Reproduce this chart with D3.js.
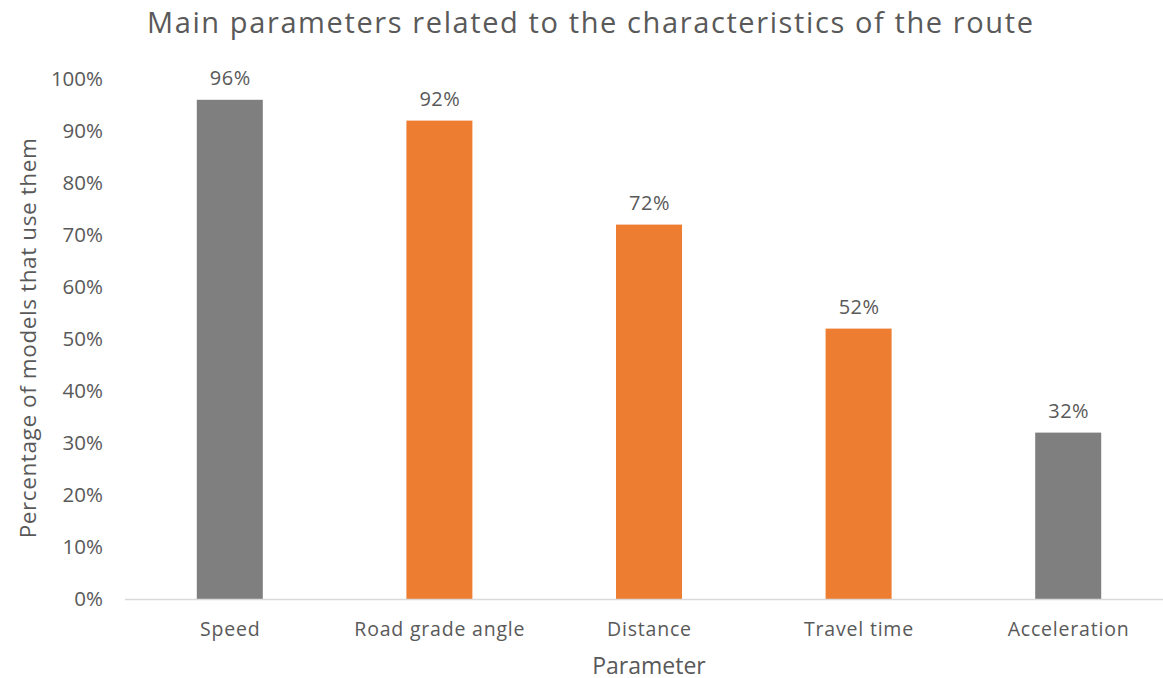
<!DOCTYPE html>
<html>
<head>
<meta charset="utf-8">
<script src="https://cdn.jsdelivr.net/npm/d3@7"></script>
<style>
  body { margin: 0; background: #fff; }
  svg { display: block; font-family: "Open Sans", sans-serif; }
</style>
</head>
<body>
<svg id="chart" width="1163" height="678"></svg>
<script>
const categories = ["Speed", "Road grade angle", "Distance", "Travel time", "Acceleration"];
const values = [96, 92, 72, 52, 32];
const groups = ["general", "route", "route", "route", "general"];
const yTicks = [0, 10, 20, 30, 40, 50, 60, 70, 80, 90, 100];

const svg = d3.select("#chart");
const textColor = "#595959";
const font = "'Open Sans', sans-serif";

const x = d3.scaleBand().domain(categories).range([125, 1173]).paddingInner(0).paddingOuter(0);
const y = d3.scaleLinear().domain([0, 100]).range([599, 79]);
const color = d3.scaleOrdinal().domain(["general", "route"]).range(["#7f7f7f", "#ed7d31"]);
const barW = 66;

// Title
svg.append("text")
  .attr("x", 590).attr("y", 33)
  .attr("text-anchor", "middle")
  .attr("fill", textColor)
  .attr("font-size", 29)
  .attr("textLength", 886)
  .attr("lengthAdjust", "spacing")
  .text("Main parameters related to the characteristics of the route");

// Y axis labels
const yAxis = d3.axisLeft(y).tickValues(yTicks).tickFormat(d => d + "%").tickSize(0).tickPadding(0);
const gy = svg.append("g").attr("transform", "translate(103,0)").call(yAxis);
gy.select(".domain").remove();
gy.selectAll("text").attr("fill", textColor).attr("font-size", 20.5).attr("font-family", font);

// Bars
const data = categories.map((c, i) => ({ c, v: values[i], g: groups[i] }));
svg.append("g").selectAll("rect").data(data).join("rect")
  .attr("x", d => x(d.c) + x.bandwidth() / 2 - barW / 2)
  .attr("width", barW)
  .attr("y", d => y(d.v))
  .attr("height", d => y(0) - y(d.v))
  .attr("fill", d => color(d.g));

// Value labels
svg.append("g").selectAll("text").data(data).join("text")
  .attr("x", d => x(d.c) + x.bandwidth() / 2 + 0.5)
  .attr("y", d => y(d.v) - 15)
  .attr("text-anchor", "middle")
  .attr("fill", textColor)
  .attr("font-size", 20)
  .attr("letter-spacing", 0.5)
  .text(d => d.v + "%");

// X axis
const xAxis = d3.axisBottom(x).tickSize(0).tickPadding(0);
const gx = svg.append("g").attr("transform", `translate(0,${y(0)})`).call(xAxis);
gx.select(".domain").remove();
gx.selectAll("text").attr("fill", textColor).attr("font-size", 19.5).attr("dy", 0).attr("y", 37)
  .attr("letter-spacing", 0.8).attr("dx", 0.4)
  .attr("font-family", font);
svg.append("line")
  .attr("x1", 125).attr("x2", 1163)
  .attr("y1", y(0) + 0.5).attr("y2", y(0) + 0.5)
  .attr("stroke", "#d9d9d9").attr("stroke-width", 1.5);

// Axis titles
svg.append("text")
  .attr("x", 649).attr("y", 674)
  .attr("text-anchor", "middle")
  .attr("fill", textColor)
  .attr("font-size", 23)
  .text("Parameter");

svg.append("text")
  .attr("transform", "translate(36,338) rotate(-90)")
  .attr("text-anchor", "middle")
  .attr("fill", textColor)
  .attr("font-size", 22.5)
  .attr("letter-spacing", 0.6)
  .text("Percentage of models that use them");
</script>
</body>
</html>
